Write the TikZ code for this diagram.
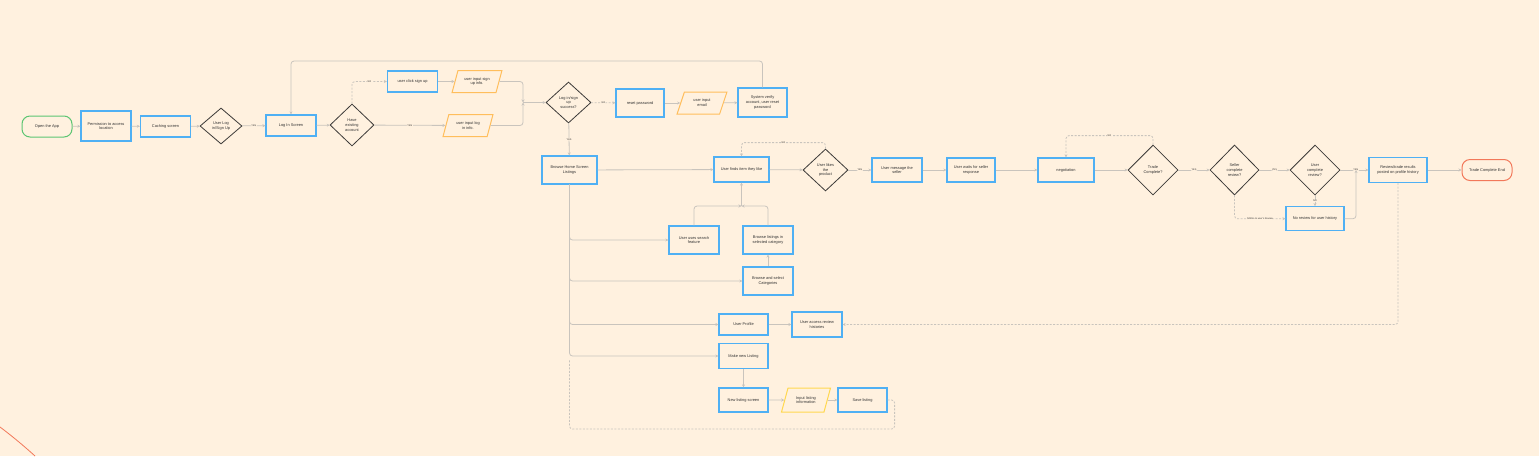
\documentclass[tikz,border=0pt]{standalone}
\usepackage{fontspec}
\setmainfont{Liberation Sans}
\usetikzlibrary{shapes.geometric,arrows.meta}
\definecolor{bg}{HTML}{FFF1DF}
\definecolor{boxblue}{HTML}{4FB0F4}
\definecolor{decgray}{HTML}{3C3A38}
\definecolor{linegray}{HTML}{C9C4BD}
\definecolor{startgreen}{HTML}{5CC572}
\definecolor{endred}{HTML}{F2785A}
\definecolor{ioorange}{HTML}{FFBE5C}
\definecolor{ioyellow}{HTML}{FFD84F}
\definecolor{txt}{HTML}{333333}

\begin{document}
\begin{tikzpicture}[x=1pt,y=-1pt,
    font=\fontsize{3.9}{4.8}\selectfont, text=txt,
    box/.style={draw=boxblue,line width=1.2pt,fill=bg,minimum width=50pt,minimum height=24pt,inner sep=0.5pt,align=center},
    term/.style={draw,line width=1pt,fill=bg,rounded corners=8pt,minimum width=50pt,minimum height=21pt,align=center},
    dec/.style={draw=decgray,line width=0.8pt,fill=bg,diamond,inner sep=0pt,minimum width=45pt,minimum height=42pt,align=center},
    io/.style={draw,line width=1pt,fill=bg,trapezium,trapezium left angle=65,trapezium right angle=115,trapezium stretches=true,minimum width=50pt,minimum height=22pt,inner sep=0pt,align=center},
    link/.style={draw=linegray,line width=0.8pt,rounded corners=3pt},
    flow/.style={link,-{Stealth[length=3pt,width=3pt]}},
    maybe/.style={flow,dashed,dash pattern=on 2pt off 1.5pt},
    lbl/.style={fill=bg,font=\fontsize{2.4}{3}\selectfont,inner sep=0.6pt,text=txt}]
  \path[use as bounding box,fill=bg] (0,0) rectangle (1539,456);
  % corner mark
  \draw[endred,line width=0.8pt] (0,427) .. controls (12,436) and (24,446) .. (35,456);
  % login part
  \draw
    (47,126.5) node[term,draw=startgreen] (0){Open the App}
    (106,126) node[box,minimum height=30pt] (1){Permission to access\\location}
    (165.5,126.5) node[box,minimum height=21pt] (2){Caching screen}
    (221,126) node[dec,minimum width=42pt,minimum height=36pt] (3){User Log\\in/Sign Up}
    (291,125.5) node[box,minimum height=21pt] (4){Log In Screen}
    (352,125) node[dec,minimum width=44pt] (5){Have\\existing\\account}
    (412.5,81.5) node[box,minimum height=21pt] (6){user click sign up}
    (477,81.5) node[io,draw=ioorange] (7){user input sign\\up info.}
    (468,125.5) node[io,draw=ioorange] (8){user input log\\in info.}
    (568.5,102.5) node[dec,minimum height=41pt] (9){Log in/sign\\up\\success?}
    (640,103) node[box,minimum width=48pt,minimum height=28pt] (10){reset password}
    (702,103) node[io,draw=ioorange] (11){user input\\email}
    (762.5,102.5) node[box,minimum width=49pt,minimum height=29pt] (12){System verify\\account, user reset\\password};
  % main row
  \draw
    (569.5,170) node[box,minimum width=55pt,minimum height=28pt] (13){Browse Home Screen\\Listings}
    (741.5,169.5) node[box,minimum width=55pt,minimum height=25pt] (14){User finds item they like}
    (825.5,170) node[dec] (15){User likes\\the\\product}
    (897,170) node[box] (16){User message the\\seller}
    (971,170) node[box,minimum width=48pt] (17){User waits for seller\\response}
    (1066,170) node[box,minimum width=56pt] (18){negotiation}
    (1153,170) node[dec,minimum width=50pt,minimum height=50pt] (19){Trade\\Complete?}
    (1234.5,170) node[dec,minimum width=49pt,minimum height=50pt] (20){Seller\\complete\\review?}
    (1315,170) node[dec,minimum width=50pt,minimum height=50pt] (21){User\\complete\\review?}
    (1315,218.7) node[box,minimum width=58pt] (22){No review for user history}
    (1398,170) node[box,minimum width=58pt,minimum height=25pt] (23){Review/trade results\\posted on profile history}
    (1487,170) node[term,draw=endred] (24){Trade Complete End};
  % browsing, profile and listing
  \draw
    (694,240) node[box,minimum height=28pt] (25){User uses search\\feature}
    (768,240) node[box,minimum height=28pt] (26){Browse listings in\\selected category}
    (768,281) node[box,minimum height=28pt] (27){Browse and select\\Categories}
    (743.5,324.5) node[box,minimum width=49pt,minimum height=21pt] (28){User Profile}
    (817,324.5) node[box,minimum height=25pt] (29){User access review\\histories}
    (743.5,356) node[box,minimum width=49pt,minimum height=25pt] (30){Make new Listing}
    (743.5,400) node[box,minimum width=49pt] (31){New listing screen}
    (806,400) node[io,draw=ioyellow,minimum width=49pt,minimum height=24pt] (32){Input listing\\information}
    (862.5,400) node[box,minimum width=49pt] (33){Save listing};
  \coordinate (m) at (523,102.5);
  \coordinate (t) at (291,61);
  \coordinate (j) at (741.5,206);
  \coordinate (k) at (1356,170);
  \coordinate (b) at (569.5,429);
  \begin{scope}[flow]
    \draw (0) -- (1);
    \draw (1) -- (2);
    \draw (2) -- (3);
    \draw (3) -- node[lbl] {YES} (4);
    \draw (4) -- (5);
    \draw[maybe] (5.north) |- node[lbl,pos=0.75] {NO} (6.west);
    \draw (5) -- node[lbl] {YES} (8);
    \draw (6) -- (7);
    \draw[link] (7.east) -| (m);
    \draw[link] (8.east) -| (m);
    \draw (m) -- (9);
    \draw[maybe] (9) -- node[lbl] {NO} (10);
    \draw (9) -- node[lbl] {YES} (13);
    \draw (10) -- (11);
    \draw (11) -- (12);
    \draw (12.north) |- (t) -- (4.north);
    \draw (13) -- (14);
    \draw (14) -- (15);
    \draw (15) -- node[lbl] {YES} (16);
    \draw[maybe] (15.north) -- ++(0,-6) -| node[lbl,pos=0.25] {NO} (14.north);
    \draw (16) -- (17);
    \draw (17) -- (18);
    \draw (18) -- (19);
    \draw[maybe] (19.north) -- ++(0,-9) -| node[lbl,pos=0.25] {NO} (18.north);
    \draw (19) -- node[lbl] {YES} (20);
    \draw (20) -- node[lbl] {YES} (21);
    \draw[maybe] (20.south) |- node[lbl,pos=0.75] {NO/Go to user's Review} (22.west);
    \draw (21) -- node[lbl] {NO} (22);
    \draw (21) -- node[lbl,pos=0.55] {YES} (23);
    \draw[link] (22.east) -| (k);
    \draw (23) -- (24);
    \draw[maybe] (23.south) |- (29.east);
    \draw[link] (25.north) |- (j);
    \draw[link] (26.north) |- (j);
    \draw (j) -- (14.south);
    \draw (27) -- (26);
    \draw (13.south) |- (25.west);
    \draw (13.south) |- (27.west);
    \draw (13.south) |- (28.west);
    \draw (13.south) |- (30.west);
    \draw (28) -- (29);
    \draw (30) -- (31);
    \draw (31) -- (32);
    \draw (32) -- (33);
    \draw[maybe,-] (33.east) -- ++(7,0) |- (b) -- ++(0,-69);
  \end{scope}
\end{tikzpicture}
\end{document}
